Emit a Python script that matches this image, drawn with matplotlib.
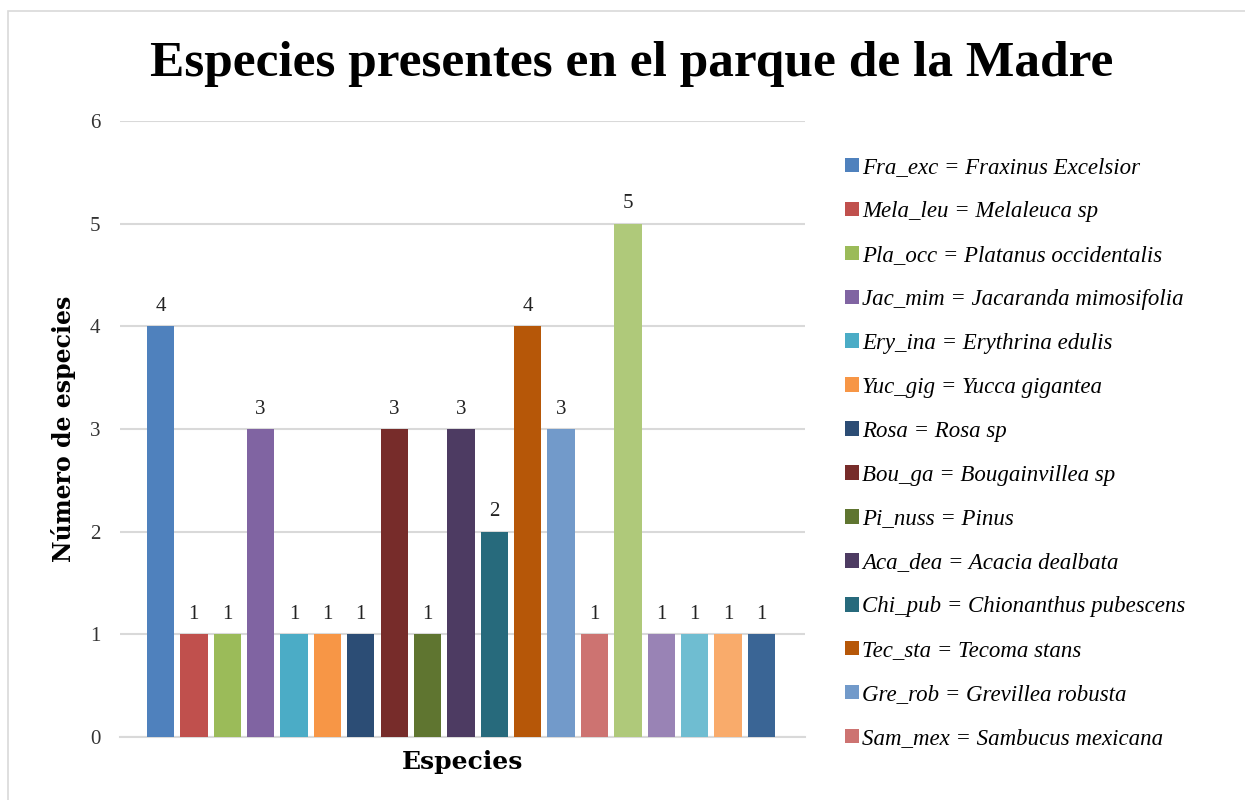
import matplotlib
matplotlib.use("Agg")
import matplotlib.pyplot as plt
from matplotlib.patches import Patch, Rectangle

title = "Especies presentes en el parque de la Madre"
ylabel = "Número de especies"
xlabel = "Especies"

codes = ["Fra_exc", "Mela_leu", "Pla_occ", "Jac_mim", "Ery_ina", "Yuc_gig", "Rosa",
         "Bou_ga", "Pi_nuss", "Aca_dea", "Chi_pub", "Tec_sta", "Gre_rob", "Sam_mex",
         "S15", "S16", "S17", "S18", "S19"]
legend_labels = [
    "Fra_exc = Fraxinus Excelsior",
    "Mela_leu = Melaleuca sp",
    "Pla_occ = Platanus occidentalis",
    "Jac_mim = Jacaranda mimosifolia",
    "Ery_ina = Erythrina edulis",
    "Yuc_gig = Yucca gigantea",
    "Rosa = Rosa sp",
    "Bou_ga = Bougainvillea sp",
    "Pi_nuss = Pinus",
    "Aca_dea = Acacia dealbata",
    "Chi_pub = Chionanthus pubescens",
    "Tec_sta = Tecoma stans",
    "Gre_rob = Grevillea robusta",
    "Sam_mex = Sambucus mexicana",
]
values = [4, 1, 1, 3, 1, 1, 1, 3, 1, 3, 2, 4, 3, 1, 5, 1, 1, 1, 1]
colors = ["#4F81BD", "#C0504D", "#9BBB59", "#8064A2", "#4BACC6", "#F79646", "#2C4D75",
          "#772C2A", "#5F7530", "#4D3B62", "#276A7C", "#B65708", "#729ACA", "#CD7371",
          "#AFC97A", "#9983B5", "#6FBDD1", "#F9AB6B", "#3A6595"]
yticks = [0, 1, 2, 3, 4, 5, 6]

SERIF = ["Liberation Serif", "DejaVu Serif"]
BOLDSERIF = ["DejaVu Serif"]

fig = plt.figure(figsize=(12.45, 8.0), dpi=100)
fig.patch.set_facecolor("white")

# outer chart border
fig.add_artist(Rectangle((8 / 1245, -0.01), 1.02, 1 - 11 / 800 + 0.01,
                         transform=fig.transFigure, fill=False,
                         edgecolor="#D9D9D9", linewidth=1.2))

ax = fig.add_axes([120 / 1245, 1 - 737 / 800, 685 / 1245, 616 / 800])
x = list(range(len(values)))
bars = ax.bar(x, values, width=0.82, color=colors, zorder=3)
for xi, v in zip(x, values):
    ax.text(xi, v + 0.1, str(v), ha="center", va="bottom",
            fontsize=15, family=SERIF, color="#222222")

ax.set_xlim(-1.21, 19.3)
ax.set_ylim(0, 6)
ax.set_yticks(yticks)
ax.set_yticklabels([str(t) for t in yticks], family=SERIF, fontsize=15, color="#333333")
ax.set_xticks([])
ax.tick_params(axis="y", length=0, pad=14)
ax.grid(axis="y", color="#D9D9D9", linewidth=1.5, zorder=0)
for s in ["top", "right", "left"]:
    ax.spines[s].set_visible(False)
ax.spines["bottom"].set_color("#D9D9D9")
ax.spines["bottom"].set_linewidth(1.5)

ax.set_ylabel(ylabel, family=BOLDSERIF, fontsize=17, fontweight="bold", labelpad=10)
ax.set_xlabel(xlabel, family=BOLDSERIF, fontsize=18, fontweight="bold", labelpad=9)

fig.text(632 / 1245, 1 - 64 / 800, title, ha="center", va="center",
         family=SERIF, fontsize=37, fontweight="bold")

handles = [Patch(facecolor=c, edgecolor="none") for c in colors[:len(legend_labels)]]
leg = fig.legend(handles, legend_labels, loc="upper left",
                 bbox_to_anchor=(836 / 1245, 1 - 148 / 800), frameon=False,
                 prop={"family": SERIF, "style": "italic", "size": 16.5},
                 handlelength=0.6, handleheight=0.6, handletextpad=0.15,
                 labelspacing=1.0, borderaxespad=0)

fig.savefig("out.png", dpi=100, facecolor="white")
